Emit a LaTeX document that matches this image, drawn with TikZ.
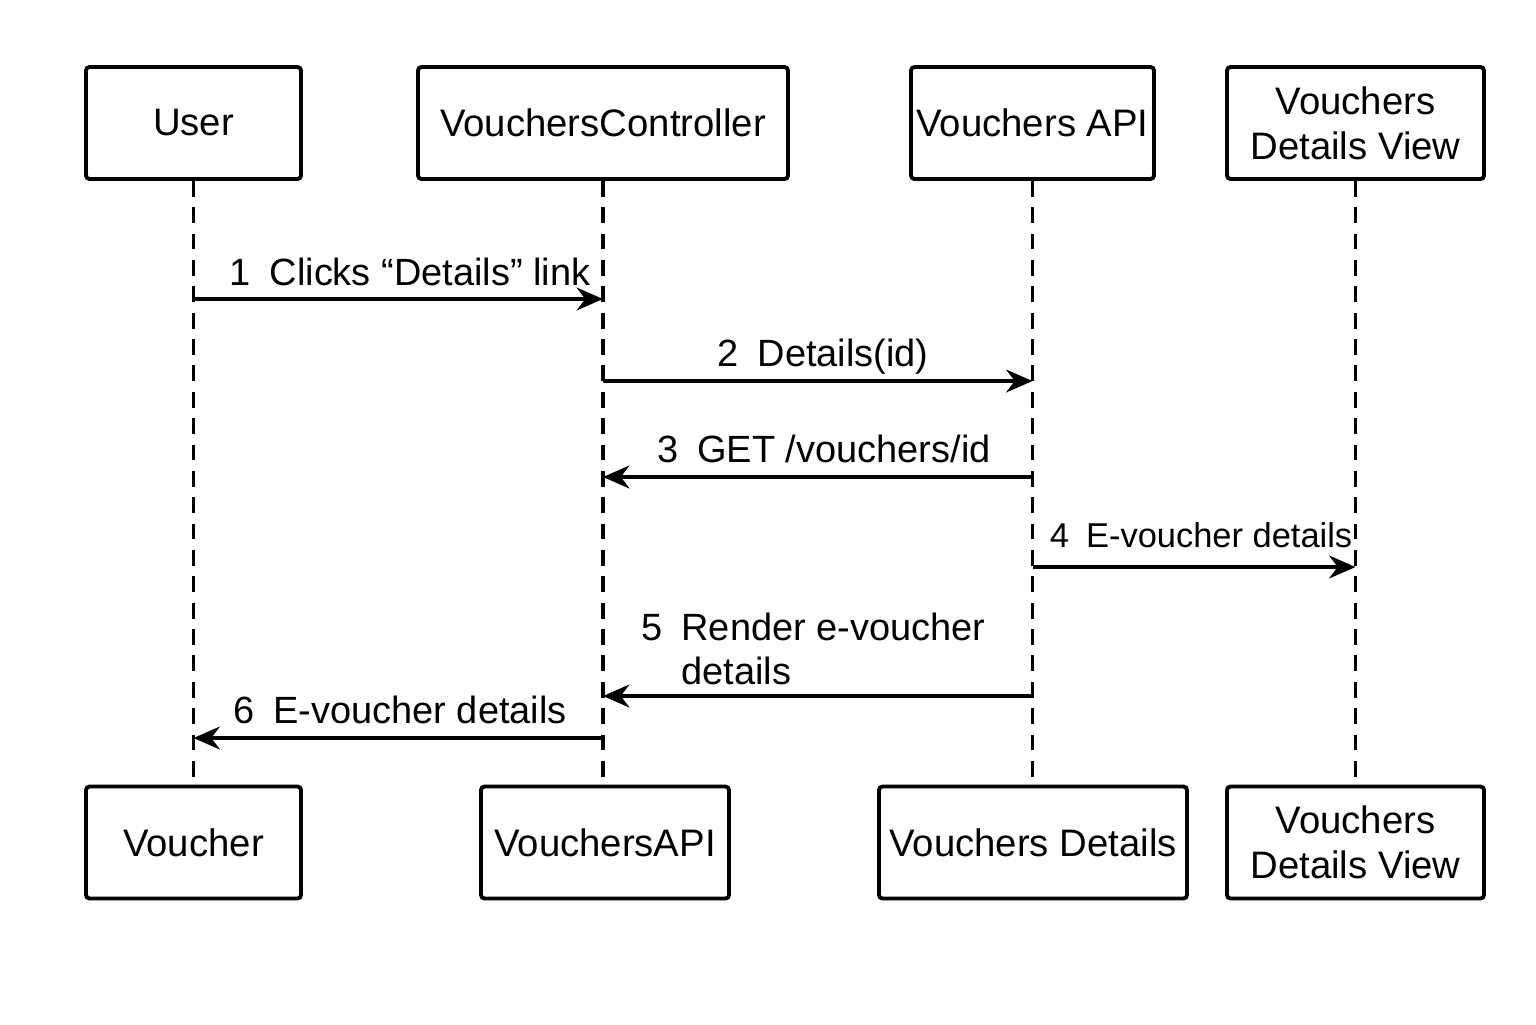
\documentclass[tikz,border=0pt]{standalone}
\usepackage{fontspec}
\setmainfont{Liberation Sans}
\usetikzlibrary{arrows.meta}
\tikzset{
	actor/.style={draw, line width=1.1pt, rounded corners=1pt, minimum width=2.15cm, minimum height=1.12cm, align=center, inner sep=1pt, font=\fontsize{10.9}{12.8}\selectfont},
	lifeline/.style={line width=1pt, dash pattern=on 4.5pt off 3pt},
	msg/.style={line width=1pt, -{Stealth[length=7.5pt,width=6.5pt]}},
	msglabel/.style={anchor=base, font=\fontsize{10.8}{12.3}\selectfont},
}
\begin{document}
\begin{tikzpicture}
		\useasboundingbox (0, 0) rectangle (15.36, -10.24);
		% participants, top row
		\node(user)[actor, minimum width=2.15cm] at (1.935, -1.23) {User};
		\node(ctrl)[actor, minimum width=3.70cm] at (6.03, -1.23) {VouchersController};
		\node(api)[actor, minimum width=2.43cm] at (10.325, -1.23) {Vouchers API};
		\node(view)[actor, minimum width=2.57cm] at (13.555, -1.23) {Vouchers\\Details View};
		% participants, bottom row
		\node(voucher)[actor, minimum width=2.15cm] at (1.935, -8.425) {Voucher};
		\node(vapi)[actor, minimum width=2.48cm] at (6.05, -8.425) {VouchersAPI};
		\node(vdet)[actor, minimum width=3.08cm] at (10.33, -8.425) {Vouchers Details};
		\node(vview)[actor, minimum width=2.57cm] at (13.555, -8.425) {Vouchers\\Details View};
		% lifelines
		\draw[lifeline] (user.south) -- (user.south |- voucher.north);
		\draw[lifeline] (ctrl.south) -- (ctrl.south |- vapi.north);
		\draw[lifeline] (api.south) -- (api.south |- vdet.north);
		\draw[lifeline] (view.south) -- (view.south |- vview.north);
		% messages
		\draw[msg] (user.south |- 0, -2.99) -- (ctrl.south |- 0, -2.99);
		\node(m1)[msglabel] at (4.10, -2.85) {1\enspace Clicks “Details” link};
		\draw[msg] (ctrl.south |- 0, -3.81) -- (api.south |- 0, -3.81);
		\node(m2)[msglabel] at (8.23, -3.66) {2\enspace Details(id)};
		\draw[msg] (api.south |- 0, -4.77) -- (ctrl.south |- 0, -4.77);
		\node(m3)[msglabel] at (8.24, -4.62) {3\enspace GET /vouchers/id};
		\draw[msg] (api.south |- 0, -5.67) -- (view.south |- 0, -5.67);
		\node(m4)[msglabel, font=\fontsize{9.8}{12}\selectfont] at (12.01, -5.47) {4\enspace E-voucher details};
		\draw[msg] (api.south |- 0, -6.96) -- (ctrl.south |- 0, -6.96);
		\node(m5)[msglabel, anchor=base west, align=left] at (6.29, -6.84) {5\enspace Render e-voucher\\\phantom{5\enspace}details};
		\draw[msg] (ctrl.south |- 0, -7.38) -- (user.south |- 0, -7.38);
		\node(m6)[msglabel] at (4.00, -7.23) {6\enspace E-voucher details};
\end{tikzpicture}
\end{document}
